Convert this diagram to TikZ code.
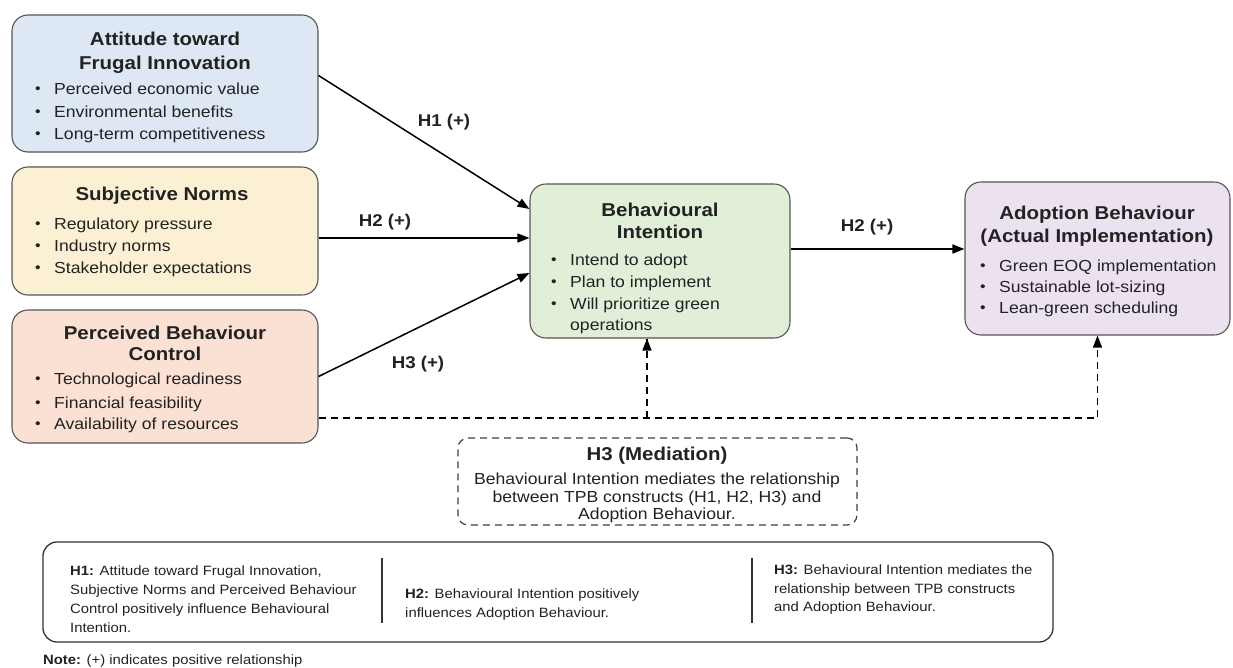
\documentclass[tikz,border=0pt]{standalone}
\usepackage{fontspec}
\setmainfont{Liberation Sans}[FakeStretch=1.1]
\usetikzlibrary{arrows.meta,calc}
\definecolor{bluefill}{HTML}{DDE8F4}
\definecolor{yellowfill}{HTML}{FBF0D3}
\definecolor{salmonfill}{HTML}{FAE1D3}
\definecolor{greenfill}{HTML}{E1EFD9}
\definecolor{purplefill}{HTML}{ECE1EF}
\definecolor{edgegray}{HTML}{555555}
\definecolor{txt}{HTML}{222222}
\newcommand{\titlefont}{\fontsize{18.6}{22}\selectfont\bfseries}
\newcommand{\bodyfont}{\fontsize{16}{22}\selectfont}
\newcommand{\smallfont}{\fontsize{13.5}{19}\selectfont}
\newcommand{\bul}{\makebox[19pt][l]{\raisebox{0.5pt}{\scalebox{0.9}{•}}}}
\begin{document}
\begin{tikzpicture}[x=1pt,y=-1pt,
  construct/.style={draw=edgegray,line width=1.1pt,rounded corners=16pt,inner sep=0pt},
  ttl/.style={inner sep=0pt,anchor=base,text=txt,font=\titlefont},
  bl/.style={inner sep=0pt,anchor=base west,text=txt,font=\bodyfont},
  bt/.style={inner sep=0pt,anchor=base west,text=txt,font=\smallfont},
  ct/.style={inner sep=0pt,anchor=base,text=txt,font=\bodyfont},
  elabel/.style={inner sep=0pt,anchor=base,text=txt,font=\fontsize{17}{20}\selectfont\bfseries},
  conn/.style={line width=1.5pt,-{Triangle[length=12pt,width=9pt]}},
  dconn/.style={line width=1.5pt,dash pattern=on 7pt off 5pt},
  dtip/.style={-{Triangle[length=12pt,width=9pt]}}
]
\useasboundingbox (0,0) rectangle (1233,667);
\fill[white] (0,0) rectangle (1233,667);

% ---- construct boxes
\node[construct,fill=bluefill,minimum width=306pt,minimum height=137pt] (b1) at (165,83.5) {};
\node[construct,fill=yellowfill,minimum width=306pt,minimum height=128pt] (b2) at (165,231) {};
\node[construct,fill=salmonfill,minimum width=306pt,minimum height=133pt] (b3) at (165,376.5) {};
\node[construct,fill=greenfill,minimum width=260pt,minimum height=154pt] (b4) at (660,261) {};
\node[construct,fill=purplefill,minimum width=265pt,minimum height=153pt] (b5) at (1097.5,258.5) {};

% ---- box 1
\node[ttl] (b1t1) at (165,45) {Attitude toward};
\node[ttl] (b1t2) at (165,69) {Frugal Innovation};
\node[bl] (b1l1) at (35,94) {\bul Perceived economic value};
\node[bl] (b1l2) at (35,117) {\bul Environmental benefits};
\node[bl] (b1l3) at (35,139) {\bul Long-term competitiveness};
% ---- box 2
\node[ttl] (b2t1) at (162,200) {Subjective Norms};
\node[bl] (b2l1) at (35,229) {\bul Regulatory pressure};
\node[bl] (b2l2) at (35,251) {\bul Industry norms};
\node[bl] (b2l3) at (35,273) {\bul Stakeholder expectations};
% ---- box 3
\node[ttl] (b3t1) at (165,339) {Perceived Behaviour};
\node[ttl] (b3t2) at (165,360) {Control};
\node[bl] (b3l1) at (35,384) {\bul Technological readiness};
\node[bl] (b3l2) at (35,408) {\bul Financial feasibility};
\node[bl] (b3l3) at (35,429) {\bul Availability of resources};
% ---- box 4
\node[ttl] (b4t1) at (660,216) {Behavioural};
\node[ttl] (b4t2) at (660,238) {Intention};
\node[bl] (b4l1) at (551,265) {\bul Intend to adopt};
\node[bl] (b4l2) at (551,287) {\bul Plan to implement};
\node[bl] (b4l3) at (551,309) {\bul Will prioritize green};
\node[bl] (b4l4) at (570,330) {operations};
% ---- box 5
\node[ttl] (b5t1) at (1097,219) {Adoption Behaviour};
\node[ttl] (b5t2) at (1097,242) {(Actual Implementation)};
\node[bl] (b5l1) at (980,271) {\bul Green EOQ implementation};
\node[bl] (b5l2) at (980,292) {\bul Sustainable lot-sizing};
\node[bl] (b5l3) at (980,313) {\bul Lean-green scheduling};

% ---- connectors
\draw[conn] ([yshift=8pt]b1.east) -- ([yshift=52pt]b4.west);
\draw[conn] ([yshift=-7pt]b2.east) -- ([yshift=-7pt]b2.east -| b4.west);
\draw[conn] (b3.east) -- ([yshift=-12pt]b4.west);
\draw[conn] ([yshift=12pt]b4.east) -- ([yshift=12pt]b4.east -| b5.west);
\node[elabel] (h1) at (444,126) {H1 (+)};
\node[elabel] (h2a) at (385,226) {H2 (+)};
\node[elabel] (h3) at (418,368) {H3 (+)};
\node[elabel] (h2b) at (867,231) {H2 (+)};

% ---- dashed mediation paths
\coordinate (ds) at ([yshift=-41.5pt]b3.east);
\coordinate (dj) at (647,418);
\draw[dconn] (ds) -| (b5.south);
\draw[line width=1.5pt,dtip] ([yshift=-10pt]b5.south) -- (b5.south);
\draw[dconn] (dj) -- (dj |- b4.south);
\draw[line width=1.5pt,dtip] ([xshift=-13pt,yshift=-10pt]b4.south) -- ([xshift=-13pt]b4.south);

% ---- mediation box
\node[draw=black!75,line width=1.2pt,dash pattern=on 7pt off 5pt,rounded corners=10pt,minimum width=399pt,minimum height=87pt,inner sep=0pt] (med) at (657.5,481.5) {};
\node[ttl] (medt) at (657,460) {H3 (Mediation)};
\node[ct] (medl1) at (657,484) {Behavioural Intention mediates the relationship};
\node[ct] (medl2) at (657,502) {between TPB constructs (H1, H2, H3) and};
\node[ct] (medl3) at (657,519) {Adoption Behaviour.};

% ---- hypotheses box
\node[draw=black!80,line width=1.3pt,rounded corners=14pt,minimum width=1010pt,minimum height=100pt,inner sep=0pt] (hyp) at (548,592) {};
\coordinate (dv1t) at (382,558); \coordinate (dv1b) at (382,623);
\coordinate (dv2t) at (752,558); \coordinate (dv2b) at (752,623);
\draw[line width=1.2pt,black!80] (dv1t) -- (dv1b);
\draw[line width=1.2pt,black!80] (dv2t) -- (dv2b);
\node[bt] (hl1) at (70,575) {\textbf{H1:} Attitude toward Frugal Innovation,};
\node[bt] (hl2) at (70,594) {Subjective Norms and Perceived Behaviour};
\node[bt] (hl3) at (70,613) {Control positively influence Behavioural};
\node[bt] (hl4) at (70,632) {Intention.};
\node[bt] (h2l1) at (405,598) {\textbf{H2:} Behavioural Intention positively};
\node[bt] (h2l2) at (405,617) {influences Adoption Behaviour.};
\node[bt] (h3l1) at (774,574) {\textbf{H3:} Behavioural Intention mediates the};
\node[bt] (h3l2) at (774,593) {relationship between TPB constructs};
\node[bt] (h3l3) at (774,611) {and Adoption Behaviour.};
\node[bt] (note) at (43,664) {\textbf{Note:} (+) indicates positive relationship};
\end{tikzpicture}
\end{document}
